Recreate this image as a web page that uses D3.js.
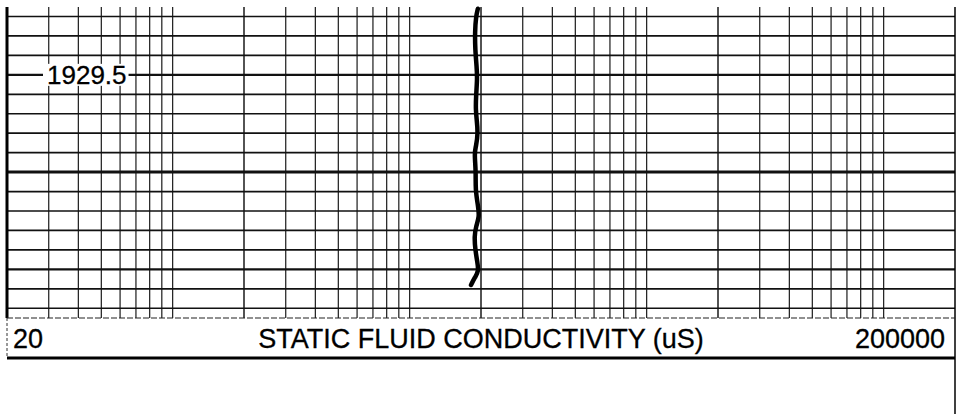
<!DOCTYPE html>
<html>
<head>
<meta charset="utf-8">
<script src="https://cdn.jsdelivr.net/npm/d3@7"></script>
<style>
  html, body { margin: 0; padding: 0; background: #fff; }
  svg { display: block; }
  text { font-family: "Liberation Sans", Arial, sans-serif; fill: #000; }
</style>
</head>
<body>
<script>
// ---- data ----
const xDomain = [20, 200000];
const xLeftLabel = "20";
const xRightLabel = "200000";
const xTitle = "STATIC FLUID CONDUCTIVITY (uS)";
const depthGridStart = 1929.2;
const depthGridEnd = 1930.7;
const depthLabels = [1929.5];
const depths = [1929.16, 1929.20, 1929.28, 1929.37, 1929.46, 1929.52, 1929.61, 1929.68,
                1929.73, 1929.80, 1929.87, 1929.90, 1930.00, 1930.09, 1930.18, 1930.23,
                1930.28, 1930.33, 1930.40, 1930.46, 1930.51, 1930.54, 1930.58];
const conductivity = [1940, 1905, 1885, 1890, 1918, 1929, 1905, 1900,
                      1918, 1943, 1905, 1874, 1905, 1892, 1948, 1967,
                      1905, 1874, 1892, 1929, 1956, 1887, 1815];

// ---- layout ----
const W = 967, H = 414;
const left = 7, right = 955, gridTop = 7, gridBottom = 318, headBottom = 358;

const svg = d3.select("body").append("svg").attr("width", W).attr("height", H);

const x = d3.scaleLog().domain(xDomain).range([left, right]);
const y = d3.scaleLinear().domain([depthGridStart, depthGridEnd]).range([16.5, 16.5 + 15 * 19.45]);

// vertical grid values
const vVals = [];
for (let p = 1; p <= 5; p++) {
  for (let k = 1; k <= 9; k++) {
    const v = k * Math.pow(10, p);
    if (v >= xDomain[0] && v <= xDomain[1]) vVals.push(v);
  }
}
const g = svg.append("g");

g.selectAll("line.v").data(vVals.filter(v => v > xDomain[0] && v < xDomain[1]))
  .join("line").attr("class", "v")
  .attr("x1", d => x(d)).attr("x2", d => x(d))
  .attr("y1", gridTop).attr("y2", gridBottom)
  .attr("stroke", "#1a1a1a")
  .attr("stroke-width", d => (String(d)[0] === "2") ? 1.5 : 1.2);

// horizontal grid
const hVals = d3.range(0, 16).map(i => +(depthGridStart + i * 0.1).toFixed(1));
g.selectAll("line.h").data(hVals).join("line").attr("class", "h")
  .attr("x1", left).attr("x2", right)
  .attr("y1", d => y(d)).attr("y2", d => y(d))
  .attr("stroke", "#111")
  .attr("stroke-width", d => {
    const f = Math.round((d % 1) * 10);
    if (f === 0) return 3;
    if (f === 5) return 2.2;
    return 1.7;
  });

// depth labels
depthLabels.forEach(dv => {
  const t = svg.append("text").attr("x", 47).attr("y", y(dv) + 9.5)
    .attr("font-size", 26).attr("stroke", "#000").attr("stroke-width", 0.3)
    .text(dv.toFixed(1));
  const bb = t.node().getBBox();
  svg.insert("rect", "text").attr("x", bb.x - 4).attr("y", y(dv) - 11)
    .attr("width", bb.width + 6).attr("height", 22).attr("fill", "#fff");
});

// curve
const line = d3.line().x((d, i) => x(conductivity[i])).y(d => y(d)).curve(d3.curveBasis);
svg.append("path").datum(depths).attr("d", line)
  .attr("fill", "none").attr("stroke", "#000").attr("stroke-width", 4.5)
  .attr("stroke-linecap", "round").attr("stroke-linejoin", "round");

// borders
svg.append("line").attr("x1", left).attr("x2", left).attr("y1", gridTop).attr("y2", gridBottom)
  .attr("stroke", "#000").attr("stroke-width", 3);
svg.append("line").attr("x1", left).attr("x2", left).attr("y1", gridBottom).attr("y2", headBottom)
  .attr("stroke", "#333").attr("stroke-width", 1).attr("stroke-dasharray", "3,2");
svg.append("line").attr("x1", right).attr("x2", right).attr("y1", gridTop).attr("y2", H)
  .attr("stroke", "#000").attr("stroke-width", 1.5);
svg.append("line").attr("x1", left).attr("x2", right).attr("y1", gridBottom).attr("y2", gridBottom)
  .attr("stroke", "#222").attr("stroke-width", 1.2).attr("stroke-dasharray", "6,2");
svg.append("line").attr("x1", left).attr("x2", right).attr("y1", headBottom).attr("y2", headBottom)
  .attr("stroke", "#000").attr("stroke-width", 3);

// header texts
const base = 348;
const fs = 27;
svg.append("text").attr("x", 13).attr("y", base).attr("font-size", fs)
  .attr("stroke", "#000").attr("stroke-width", 0.3).text(xLeftLabel);
svg.append("text").attr("x", right - 10).attr("y", base).attr("font-size", fs)
  .attr("stroke", "#000").attr("stroke-width", 0.3)
  .attr("text-anchor", "end").text(xRightLabel);
svg.append("text").attr("x", (left + right) / 2).attr("y", base).attr("font-size", fs)
  .attr("stroke", "#000").attr("stroke-width", 0.3)
  .attr("text-anchor", "middle").text(xTitle);
</script>
</body>
</html>
